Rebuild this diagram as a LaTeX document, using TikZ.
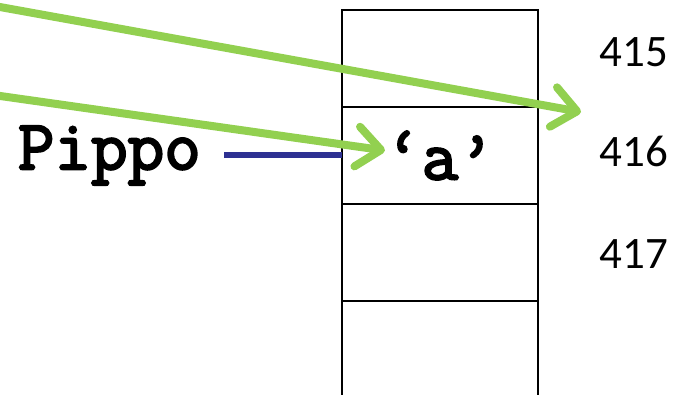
\documentclass[tikz,border=0pt]{standalone}
\usepackage{fontspec}
\newfontfamily\addrfont{Carlito}
\newfontfamily\cellmono{Latin Modern Mono}[FakeBold=3]
\usetikzlibrary{arrows.meta,positioning}
\definecolor{ptrgreen}{RGB}{146,208,80}
\definecolor{varblue}{RGB}{46,49,146}

\begin{document}
\begin{tikzpicture}[x=1pt,y=1pt,
  cell/.style={draw,line width=1.4pt,minimum width=196pt,minimum height=97pt,outer sep=0pt,inner sep=0pt},
  addr/.style={font=\addrfont\fontsize{45}{45}\selectfont,inner sep=0pt},
  val/.style={font=\cellmono\bfseries\fontsize{71}{71}\selectfont,inner sep=0pt},
  ptr/.style={ptrgreen,line width=8pt,-{Straight Barb[round,length=24pt,width=40pt]}},
  link/.style={varblue,line width=6pt}]
\useasboundingbox (0,0) rectangle (674,394);
% memory column
\node[cell] (cell415) at (440,335.5) {};
\node[cell,below=0pt of cell415] (cell416) {};
\node[cell,below=0pt of cell416] (cell417) {};
\node[cell,below=0pt of cell417] (cell418) {};
% addresses
\node[addr] (a415) at (634,342) {415};
\node[addr] (a416) at (634,243) {416};
\node[addr] (a417) at (634,140) {417};
% variable and value
\node[val] (achar) at (cell416.center) {‘a’};
\node[val,left=141pt of cell416] (pippo) {Pippo};
\draw[link,shorten <=23pt] (pippo) -- (cell416);
% pointers
\coordinate (src1) at (-4,387.7);
\coordinate (src2) at (-4,298.6);
\coordinate (dst1) at (581,282);
\draw[ptr] (src1) -- (dst1);
\draw[ptr] (src2) -- ([yshift=5pt]achar.west);
\end{tikzpicture}
\end{document}
